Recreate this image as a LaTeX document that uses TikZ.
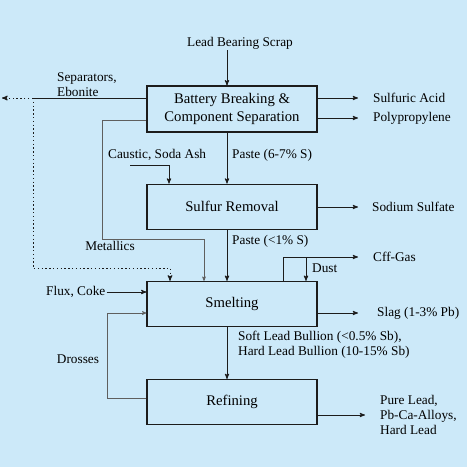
\documentclass[tikz,border=0pt]{standalone}
\usepackage{fontspec}
\setmainfont{Liberation Serif}
\usetikzlibrary{arrows}
\usetikzlibrary{calc}
\usetikzlibrary{positioning}
\definecolor{bgblue}{RGB}{204,233,249}
\definecolor{ink}{RGB}{28,28,28}
\definecolor{greyline}{RGB}{95,95,95}
\newcommand{\boxfont}{\fontsize{14.7}{18}\selectfont}
\newcommand{\tagfont}{\fontsize{13.3}{15}\selectfont}

\begin{document}
\begin{tikzpicture}[x=1pt, y=-1pt, auto, >=stealth']
    \tagfont

    % TikZ styles for drawing %%%%%%%%%%%%%%%%%%%%%%%%%%%%%%%%%%%%%%%%%%%%%%%%%%%%%%
    \tikzstyle{block} = [draw=ink,rectangle,line width=1.2pt,minimum width=170pt,minimum height=45pt,align=center,font=\boxfont]
    \tikzstyle{tag} = [inner sep=1pt,align=left,font=\tagfont]
    \tikzstyle{connector} = [->,line width=0.9pt,draw=ink]
    \tikzstyle{line} = [line width=0.9pt,draw=ink]
    \tikzstyle{thinconn} = [->,line width=0.6pt,draw=greyline]
    \tikzstyle{dotconn} = [->,line width=1pt,draw=ink,dash pattern=on 1.4pt off 2.4pt]

    % background and page size %%%%%%%%%%%%%%%%%%%%%%%%%%%%%%%%%%%%%%%%%%%%%%%%%%%%%%
    \fill[bgblue] (0,0) rectangle (467,467);

    % Process blocks %%%%%%%%%%%%%%%%%%%%%%%%%%%%%%%%%%%%%%%%%%%%%%%%%%%%%%%%%%%%%%%%
    \node[block, minimum height=46pt] (breaking) at (232,109) {Battery Breaking \&\\Component Separation};
    \node[block, below=51pt of breaking] (sulfur) {Sulfur Removal};
    \node[block, below=51pt of sulfur] (smelting) {Smelting};
    \node[block, below=52pt of smelting] (refining) {Refining};

    % Texts %%%%%%%%%%%%%%%%%%%%%%%%%%%%%%%%%%%%%%%%%%%%%%%%%%%%%%%%%%%%%%%%%%%%%%%%
    \node[tag] (scrap) at (240,43) {Lead Bearing Scrap};
    \node[tag, anchor=west] (separators) at (56,85) {Separators,\\Ebonite};
    \node[tag, anchor=west] (acid) at (372,98) {Sulfuric Acid};
    \node[tag, anchor=west] (poly) at (372,118) {Polypropylene};
    \node[tag, anchor=west] (caustic) at (107,155) {Caustic, Soda Ash};
    \node[tag, anchor=west] (paste1) at (231,155) {Paste (6-7\% S)};
    \node[tag, anchor=west] (sulfate) at (371,207) {Sodium Sulfate};
    \node[tag, anchor=west] (paste2) at (231,241) {Paste (<1\% S)};
    \node[tag] (metallics) at (110,246) {Metallics};
    \node[tag, anchor=west] (offgas) at (372,257) {Cff-Gas};
    \node[tag, anchor=west] (dust) at (311,268) {Dust};
    \node[tag, anchor=west] (flux) at (45,292) {Flux, Coke};
    \node[tag, anchor=west] (slag) at (376,313) {Slag (1-3\% Pb)};
    \node[tag, anchor=west] (bullion) at (237,345) {Soft Lead Bullion (<0.5\% Sb),\\Hard Lead Bullion (10-15\% Sb)};
    \node[tag] (drosses) at (78,359) {Drosses};
    \node[tag, anchor=west] (pure) at (379,415) {Pure Lead,\\Pb-Ca-Alloys,\\Hard Lead};

    % Free ends and bends %%%%%%%%%%%%%%%%%%%%%%%%%%%%%%%%%%%%%%%%%%%%%%%%%%%%%%%%%%%
    \coordinate (axis) at (227,0);
    \coordinate (sepJ) at (33,98);
    \coordinate (sepEnd) at (2,98);
    \coordinate (dotTurn) at (170,268);
    \coordinate (metA) at (102,120);
    \coordinate (metB) at (204,239);
    \coordinate (causA) at (130,165);
    \coordinate (causB) at (169,165);
    \coordinate (offA) at (283,257);
    \coordinate (dustA) at (306,257);
    \coordinate (drA) at (107,398);
    \coordinate (drB) at (107,313);

    % Now link the nodes %%%%%%%%%%%%%%%%%%%%%%%%%%%%%%%%%%%%%%%%%%%%%%%%%%%%%%%%%%%%%
    \draw [connector] (scrap.south -| axis) -- (breaking.north -| axis);
    \draw [connector] (breaking.south -| axis) -- (sulfur.north -| axis);
    \draw [connector] (sulfur.south -| axis) -- (smelting.north -| axis);
    \draw [connector] (smelting.south -| axis) -- (refining.north -| axis);

    \draw [line]      (breaking.west |- sepJ) -- (sepJ);
    \draw [dotconn]   (sepJ) -- (sepEnd);
    \draw [dotconn]   (sepJ) |- (dotTurn) -- (smelting.north -| dotTurn);
    \draw [thinconn]  (breaking.west |- metA) -- (metA) |- (metB) -- (smelting.north -| metB);
    \draw [connector] (causA) -- (causB) -- (sulfur.north -| causB);

    \draw [connector] (breaking.east |- acid) -- ([xshift=-14pt]acid.west);
    \draw [connector] (breaking.east |- poly) -- ([xshift=-14pt]poly.west);
    \draw [connector] (sulfur.east |- sulfate) -- ([xshift=-13pt]sulfate.west);

    \draw [connector] (smelting.north -| offA) -- (offA) -- ([xshift=-14pt]offgas.west);
    \draw [connector] (dustA) -- (smelting.north -| dustA);
    \draw [connector] (smelting.east |- slag) -- ([xshift=-18pt]slag.west);
    \draw [connector] (flux.east) -- (smelting.west |- flux.east);
    \draw [thinconn]  (refining.west |- drA) -- (drA) -- (drB) -- (smelting.west |- drB);
    \draw [connector] (refining.east |- pure.west) -- ([xshift=-14pt]pure.west);

\end{tikzpicture}
\end{document}
